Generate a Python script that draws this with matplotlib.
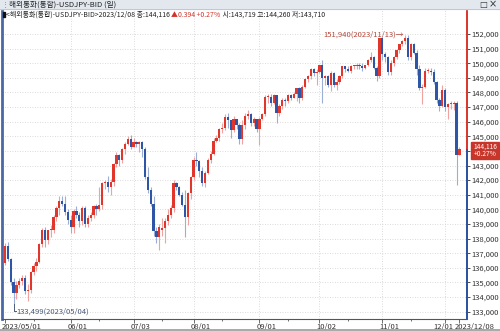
import numpy as np
import pandas as pd
import matplotlib
matplotlib.use("Agg")
import matplotlib.pyplot as plt
from matplotlib.patches import Rectangle
from matplotlib.lines import Line2D

plt.rcParams["font.family"] = ["Liberation Sans Narrow", "Noto Sans CJK KR", "DejaVu Sans"]

# trading days 2023/05/01 .. 2023/12/08
dates = pd.bdate_range("2023-05-01", "2023-12-08")

opens = [
    136.3, 137.5, 136.6, 135.0, 134.3, 134.8, 135.1, 135.3, 134.4, 134.5, 135.7, 136.1,
    136.4, 137.6, 138.6, 137.9, 138.6, 138.6, 139.5, 140.1, 140.6, 140.4, 139.8,
    139.3, 138.8, 139.9, 139.6, 139.2, 140.1, 139.0, 139.4, 139.6, 140.2, 140.0, 140.3,
    141.8, 141.9, 141.5, 141.9, 143.1, 143.7, 143.4, 144.1, 144.5, 144.8,
    144.3, 144.6, 144.5, 144.6, 144.1, 142.2, 141.3, 140.4, 138.5, 138.1, 138.6, 138.7,
    139.2, 139.6, 140.1, 141.8, 141.5, 141.0, 140.3, 139.5, 141.1,
    142.2, 143.4, 143.3, 142.6, 141.8, 142.5, 143.4, 143.8, 144.7, 144.9, 145.5, 145.6,
    146.3, 146.1, 145.4, 146.2, 145.8, 144.8, 145.8, 146.4, 146.5, 145.9, 146.2,
    145.5, 146.2, 146.5, 147.7, 147.7, 147.3, 147.8, 146.6, 147.1, 147.5, 147.4, 147.8,
    147.6, 147.9, 148.3, 147.6, 148.4, 148.9, 149.1, 149.6, 149.3,
    149.4, 149.9, 149.0, 149.1, 148.5, 149.3, 148.5, 148.7, 149.1, 149.8, 149.6, 149.5,
    149.8, 149.8, 149.9, 149.8, 149.7, 149.9, 150.2, 150.4, 149.7, 149.1,
    151.7, 150.6, 150.4, 149.4, 150.0, 150.4, 150.9, 151.3, 151.5, 151.7, 150.4, 151.3,
    150.7, 149.6, 148.3, 148.4, 149.5, 149.5, 149.4, 148.7, 147.5, 147.1,
    148.2, 147.0, 147.2, 147.2, 147.3, 143.719,
]
highs = [
    137.7, 137.8, 136.7, 135.3, 135.1, 135.3, 135.5, 135.5, 134.9, 135.8, 136.3, 136.7,
    137.7, 138.7, 138.8, 138.6, 138.9, 139.6, 140.2, 140.9, 140.9, 140.9, 140.0,
    139.6, 140.0, 140.2, 139.8, 140.2, 140.2, 139.6, 139.8, 140.3, 140.4, 141.5, 141.9,
    142.0, 142.3, 142.1, 143.2, 143.9, 143.8, 144.2, 144.6, 145.0, 145.1,
    144.9, 144.7, 144.7, 144.7, 144.3, 142.9, 141.5, 140.9, 138.8, 139.0, 139.4, 139.4,
    140.0, 140.3, 142.0, 141.9, 141.6, 141.2, 141.3, 141.2, 142.3,
    143.6, 143.9, 143.4, 142.9, 142.6, 143.5, 144.0, 144.9, 145.1, 145.6, 145.9, 146.5,
    146.6, 146.1, 146.4, 146.2, 145.9, 146.1, 146.6, 146.8, 146.6, 146.3, 146.2,
    146.3, 146.6, 147.8, 147.9, 147.9, 147.9, 147.8, 147.2, 147.6, 147.6, 147.9, 147.9,
    148.0, 148.3, 148.4, 148.5, 149.0, 149.2, 149.7, 149.7, 149.6,
    149.9, 150.2, 149.2, 149.2, 149.5, 149.4, 148.9, 149.2, 149.8, 149.8, 149.8, 149.9,
    149.9, 150.0, 150.0, 150.0, 149.9, 150.3, 150.8, 150.5, 149.8, 151.7,
    151.7, 150.8, 150.5, 150.2, 150.5, 151.0, 151.3, 151.6, 151.94, 151.9, 151.4, 151.4,
    150.9, 149.9, 148.6, 149.7, 149.7, 149.7, 149.6, 148.8, 147.6, 148.5,
    148.3, 147.3, 147.4, 147.4, 147.4, 144.260,
]
lows = [
    136.2, 136.5, 134.8, 133.499, 133.9, 134.6, 134.8, 134.2, 133.7, 134.3, 135.5, 135.8,
    136.3, 137.4, 137.4, 137.6, 138.1, 138.4, 139.2, 139.6, 140.2, 139.6, 139.0,
    138.4, 138.4, 139.4, 138.8, 138.9, 138.8, 138.8, 139.2, 139.4, 139.6, 139.9, 140.0,
    141.4, 141.2, 141.0, 141.6, 142.9, 143.0, 143.2, 143.8, 144.4, 144.1,
    144.3, 144.3, 143.9, 143.6, 142.1, 141.1, 140.2, 138.2, 137.7, 137.2, 138.2, 137.7,
    138.9, 139.4, 139.8, 141.3, 140.9, 140.2, 138.1, 138.9, 140.7,
    142.0, 143.0, 142.2, 141.6, 141.5, 142.4, 143.2, 143.7, 144.6, 144.7, 145.2, 145.4,
    145.6, 144.9, 145.3, 145.5, 144.5, 144.5, 145.5, 146.2, 145.7, 145.7, 145.3,
    144.4, 146.1, 146.4, 147.3, 147.1, 147.2, 145.9, 146.4, 146.9, 147.1, 147.3, 147.5,
    147.6, 147.4, 147.3, 147.5, 148.3, 148.7, 148.9, 149.1, 148.5,
    149.3, 147.3, 148.5, 148.4, 148.1, 148.4, 148.2, 148.6, 149.0, 149.4, 149.4, 149.3,
    149.6, 149.6, 149.6, 149.5, 149.6, 149.8, 150.1, 149.6, 148.8, 149.0,
    150.2, 150.1, 149.2, 149.2, 149.8, 150.3, 150.7, 151.2, 151.3, 150.2, 150.2, 150.6,
    149.2, 148.2, 147.2, 148.3, 149.3, 149.2, 148.6, 147.3, 146.7, 147.0,
    146.7, 146.2, 146.9, 146.8, 141.7, 143.710,
]
closes = [
    137.5, 136.6, 135.0, 134.3, 134.8, 135.1, 135.3, 134.4, 134.5, 135.7, 136.1, 136.4,
    137.6, 138.6, 137.9, 138.6, 138.6, 139.5, 140.1, 140.6, 140.4, 139.8, 139.3,
    138.8, 139.9, 139.6, 139.2, 140.1, 139.0, 139.4, 139.6, 140.2, 140.0, 140.3, 141.8,
    141.9, 141.5, 141.9, 143.1, 143.7, 143.4, 144.1, 144.5, 144.8, 144.3,
    144.6, 144.5, 144.6, 144.1, 142.2, 141.3, 140.4, 138.5, 138.1, 138.8, 138.7, 139.2,
    139.6, 140.1, 141.8, 141.5, 141.0, 140.3, 139.5, 141.1, 142.2,
    143.4, 143.3, 142.6, 141.8, 142.5, 143.4, 143.8, 144.7, 144.9, 145.5, 145.6, 146.3,
    146.1, 145.4, 146.2, 145.8, 144.8, 145.8, 146.4, 146.5, 145.9, 146.2, 145.5,
    146.2, 146.5, 147.7, 147.7, 147.3, 147.8, 146.6, 147.1, 147.5, 147.4, 147.8, 147.6,
    147.9, 148.3, 147.6, 148.4, 148.9, 149.1, 149.6, 149.3, 149.4,
    149.9, 149.0, 149.1, 148.5, 149.3, 148.5, 148.7, 149.1, 149.8, 149.6, 149.5, 149.8,
    149.8, 149.9, 149.8, 149.7, 149.9, 150.2, 150.4, 149.7, 149.1, 151.7,
    150.6, 150.4, 149.4, 150.0, 150.4, 150.9, 151.3, 151.5, 151.7, 150.4, 151.3, 150.7,
    149.6, 148.3, 148.4, 149.5, 149.5, 149.4, 148.7, 147.5, 147.1, 148.2,
    147.0, 147.2, 147.2, 147.3, 143.7, 144.116,
]
price_ticks = list(range(133, 153))
change_text = "▲0.394 +0.27%"

UP, DOWN = "#e0362c", "#2f56a6"
UP_WICK, DOWN_WICK = "#eea3a0", "#9aaed6"
FS = 5.5

o = np.array(opens)
h = np.array(highs)
l = np.array(lows)
c = np.array(closes)
n = len(c)
x = np.arange(n)
up = c >= o

fig = plt.figure(figsize=(5, 3.31), dpi=100)
W, H = 500, 331
ax = fig.add_axes([2 / W, 1 - 319 / H, 465 / W, 310 / H])

ax.set_xlim(-1.05, 161.65)
ax.set_ylim(132.5, 153.71)

# grid
for p in price_ticks:
    ax.axhline(p, color="#cfcfcf", lw=0.6, ls=(0, (1, 2)), zorder=0)
month_idx = [i for i in range(n) if i == 0 or dates[i].month != dates[i - 1].month]
for i in month_idx[1:]:
    ax.axvline(i, color="#cfcfcf", lw=0.6, ls=(0, (1, 2)), zorder=0)

# candles
ax.vlines(x, l, h, colors=np.where(up, UP_WICK, DOWN_WICK), lw=0.8, zorder=2)
body = np.maximum(np.abs(c - o), 0.05)
ax.bar(x, body, bottom=np.minimum(o, c), width=0.8,
       color=np.where(up, UP, DOWN), linewidth=0, zorder=3)

# spines
for s in ("top", "right"):
    ax.spines[s].set_visible(False)
ax.spines["left"].set_color("#4a68a8")
ax.spines["left"].set_linewidth(2)
ax.spines["bottom"].set_color("#555555")
ax.spines["bottom"].set_linewidth(0.8)

xr = ax.get_xlim()[1]
ax.vlines(xr, c[-1], ax.get_ylim()[1], color="#d9342b", lw=1.4, clip_on=False, zorder=5)
ax.vlines(xr, ax.get_ylim()[0], c[-1], color="#2b4f9c", lw=1.4, clip_on=False, zorder=5)

# y axis on the right; the label under the current-price box is hidden
ax.yaxis.tick_right()
ax.set_yticks(price_ticks)
ax.set_yticklabels(["" if abs(p - c[-1]) < 0.5 else f"{p},000" for p in price_ticks])
ax.tick_params(axis="y", length=2, width=0.6, color="#333333", pad=0.8,
               labelsize=FS, labelcolor="#333333")

# x axis: month starts, labels left aligned
ax.set_xticks(month_idx + [n - 1])
ax.set_xticklabels([])
ax.set_xticks([i for i in range(n) if dates[i].day >= 15 and dates[i - 1].day < 15],
              minor=True)
ax.tick_params(axis="x", which="major", length=3, width=0.6, color="#555555")
ax.tick_params(axis="x", which="minor", length=1.5, width=0.6, color="#555555")
xlabels = [d.strftime("%m/%d") for d in dates[month_idx]]
xlabels[0] = dates[0].strftime("%Y/%m/%d")
trans = ax.get_xaxis_transform()
for i, lab in zip(month_idx, xlabels):
    ha = "right" if i == month_idx[-1] else "left"
    xx = i + 3.0 if ha == "right" else i - 1.1
    ax.text(xx, -0.012, lab, transform=trans, ha=ha, va="top", fontsize=FS, color="#333333")
ax.text(n - 1 - 1.5, -0.012, dates[-1].strftime("%Y/%m/%d"), transform=trans,
        ha="left", va="top", fontsize=FS, color="#333333", clip_on=False)

# high / low markers
ih = int(np.argmax(h))
ax.text(ih - 0.4, h[ih], f"{h[ih]:.3f}".replace(".", ",") + f"({dates[ih]:%Y/%m/%d})→",
        ha="right", va="center", fontsize=FS, color="#b5473a", zorder=6)
il = int(np.argmin(l))
ax.plot([il, il, il + 0.9], [l[il], 133.03, 133.03], color="#4a5a7a", lw=0.7, zorder=6)
ax.text(il + 1.0, 133.03, f"{l[il]:.3f}".replace(".", ",") + f"({dates[il]:%Y/%m/%d})",
        ha="left", va="center", fontsize=FS, color="#4a5a7a", zorder=6)

# current price box
fig.patches.append(Rectangle((471 / W, 1 - 159 / H), 28 / W, 17 / H,
                             transform=fig.transFigure, color="#c8362b", zorder=10))
fig.text(485 / W, 1 - 146.3 / H, f"{c[-1]:.3f}".replace(".", ","),
         ha="center", va="center", fontsize=4.8, color="white", zorder=11)
fig.text(485 / W, 1 - 154.5 / H, "+0.27%",
         ha="center", va="center", fontsize=4.8, color="white", zorder=11)

# window title bar
fig.patches.append(Rectangle((0, 1 - 9 / H), 1, 9 / H, transform=fig.transFigure,
                             color="#e3e8ef", zorder=1))
fig.add_artist(Line2D([0, 1], [1 - 9 / H, 1 - 9 / H], color="#b9c3d2", lw=0.6))
fig.text(1.5 / W, 1 - 4.5 / H, "⋮", fontsize=5, va="center", color="#777777",
         family="DejaVu Sans")
fig.text(9 / W, 1 - 4.5 / H, "해외통화(통합)-USDJPY-BID (일)", fontsize=FS,
         va="center", color="#222222")
fig.text(479 / W, 1 - 4.5 / H, "□", fontsize=6, va="center", color="#333333",
         family="DejaVu Sans")
fig.text(489 / W, 1 - 4.5 / H, "×", fontsize=7, va="center", color="#333333",
         family="DejaVu Sans")

# info line
fig.patches.append(Rectangle((3 / W, 1 - 17 / H), 1.5 / W, 5 / H,
                             transform=fig.transFigure, color="#111111", zorder=5))
t1 = fig.text(6 / W, 1 - 15 / H,
              f"<해외통화(통합)-USDJPY-BID>{dates[-1]:%Y/%m/%d} 종:{c[-1]:.3f} ".replace(".", ","),
              fontsize=5, va="center", color="#222222")
t2 = ax.annotate(change_text, xy=(1, 0.5), xycoords=t1, va="center", fontsize=5,
                 color="#d0342b", annotation_clip=False)
ax.annotate(f" 시:{o[-1]:.3f} 고:{h[-1]:.3f} 저:{l[-1]:.3f}".replace(".", ","),
            xy=(1, 0.5), xycoords=t2, va="center", fontsize=5, color="#222222",
            annotation_clip=False)

fig.add_artist(Line2D([0, 1], [0.004, 0.004], color="#9a9a9a", lw=1.2))

fig.savefig("out.png", dpi=100)
